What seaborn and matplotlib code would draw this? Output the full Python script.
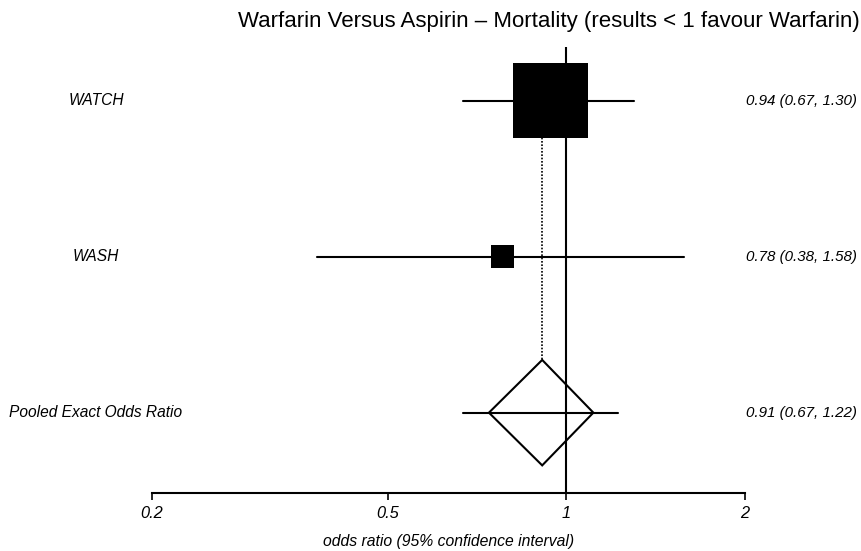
import numpy as np
import pandas as pd
import matplotlib
matplotlib.use('Agg')
import matplotlib.pyplot as plt
import matplotlib.transforms as mtransforms
import seaborn as sns

# Study data
studies = ['WATCH', 'WASH']
odds = [0.94, 0.78]
lower = [0.67, 0.38]
upper = [1.30, 1.58]
weights = [91.4, 8.6]
result_text = ['0.94 (0.67, 1.30)', '0.78 (0.38, 1.58)']

# Pooled estimate
pooled_label = 'Pooled Exact Odds Ratio'
pooled_or = 0.91
pooled_lower = 0.67
pooled_upper = 1.22
diamond_lower = 0.74
diamond_upper = 1.11
pooled_text = '0.91 (0.67, 1.22)'

ticks = [0.2, 0.5, 1, 2]
tick_labels = ['0.2', '0.5', '1', '2']

sns.set_style('white')
plt.rcParams['font.family'] = ['Liberation Sans', 'DejaVu Sans']
plt.rcParams['text.color'] = 'black'
plt.rcParams['axes.labelcolor'] = 'black'
plt.rcParams['xtick.color'] = 'black'

fig = plt.figure(figsize=(8.62, 5.51), dpi=100)
ax = fig.add_axes([152/862, 1 - 493/551, (745 - 152)/862, (493 - 47)/551])

df = pd.DataFrame({'study': studies, 'or': odds, 'lo': lower, 'hi': upper,
                   'w': weights, 'row': range(len(studies))})
pooled_row = len(studies)

# confidence interval lines
for i, r in df.iterrows():
    ax.plot([r['lo'], r['hi']], [r['row'], r['row']], color='black', lw=1.5, zorder=2)
ax.plot([pooled_lower, pooled_upper], [pooled_row, pooled_row], color='black', lw=1.5, zorder=2)

# boxes sized by weight (area proportional to weight)
box_side = 54 * np.sqrt(df['w'] / df['w'].max())
sns.scatterplot(data=df, x='or', y='row', marker='s', color='black',
                s=box_side**2, linewidth=0, ax=ax, zorder=4, legend=False)

# pooled diamond
h = 0.338
ax.fill([diamond_lower, pooled_or, diamond_upper, pooled_or],
        [pooled_row, pooled_row - h, pooled_row, pooled_row + h],
        facecolor='none', edgecolor='black', lw=1.5, zorder=3)

# dotted line at pooled estimate and solid line of no effect
ax.plot([pooled_or, pooled_or], [0, pooled_row - h], color='black', lw=1.2, ls=(0, (1, 1)), zorder=1)
ax.axvline(1, color='black', lw=1.5, zorder=2)

ax.set_xscale('log')
ax.set_xlim(0.2, 2)
ax.set_ylim(2.515, -0.344)
ax.set_xticks(ticks)
ax.set_xticklabels(tick_labels, fontsize=11.8, style='italic')
ax.minorticks_off()
ax.set_yticks([])
ax.tick_params(axis='x', direction='out', length=5, width=1.2, pad=4, bottom=True)
for s in ['top', 'left', 'right']:
    ax.spines[s].set_visible(False)
ax.spines['bottom'].set_linewidth(1.5)
ax.spines['bottom'].set_color('black')
ax.set_xlabel('odds ratio (95% confidence interval)', fontsize=11.3, style='italic', labelpad=10)
ax.set_ylabel('')

# labels left and results right
trans = mtransforms.blended_transform_factory(fig.transFigure, ax.transData)
for name, row, txt in zip(df['study'], df['row'], result_text):
    ax.text(96/862, row, name, transform=trans, ha='center', va='center', fontsize=11.2, style='italic')
    ax.text(857/862, row, txt, transform=trans, ha='right', va='center', fontsize=10.9, style='italic')
ax.text(96/862, pooled_row, pooled_label, transform=trans, ha='center', va='center', fontsize=11.2, style='italic')
ax.text(857/862, pooled_row, pooled_text, transform=trans, ha='right', va='center', fontsize=10.9, style='italic')

fig.text(860/862, 1 - 21/551, 'Warfarin Versus Aspirin \u2013 Mortality (results < 1 favour Warfarin)',
         ha='right', va='center', fontsize=16, family=['Liberation Sans Narrow', 'Liberation Sans', 'DejaVu Sans'])

fig.savefig('out.png', dpi=100)
